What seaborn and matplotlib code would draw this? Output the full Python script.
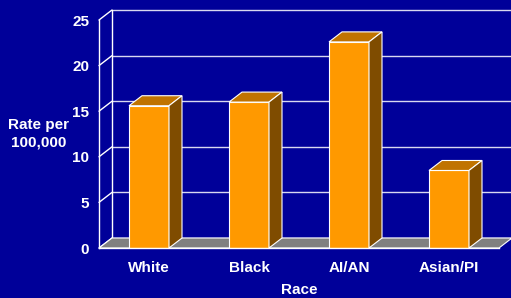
import numpy as np
import pandas as pd
import matplotlib
matplotlib.use("Agg")
import matplotlib.pyplot as plt
from matplotlib.patches import Polygon
from matplotlib.lines import Line2D
from matplotlib.transforms import IdentityTransform
import seaborn as sns

# ── Data ────────────────────────────────────────────────
races = ["White", "Black", "AI/AN", "Asian/PI"]
rates = [15.6, 16.0, 22.6, 8.5]
y_ticks = [0, 5, 10, 15, 20, 25]

# ── Style ───────────────────────────────────────────────
BG = "#000099"
FRONT = "#FF9900"
TOP = "#C07300"
SIDE = "#7F4C00"
FLOOR = "#808080"
GRID = "#D8D8F0"
DEPTH = (13, 10)  # 3D offset of the back wall, in pixels
FS = 11

sns.set_style("white")
plt.rcParams["font.family"] = ["Liberation Sans", "DejaVu Sans"]
plt.rcParams["font.weight"] = "bold"

fig = plt.figure(figsize=(5.11, 2.98), dpi=100, facecolor=BG)
ax = fig.add_axes([99 / 511, 50 / 298, 400 / 511, 228 / 298])
ax.set_facecolor("none")

df = pd.DataFrame({"race": races, "rate": rates})
sns.barplot(data=df, x="race", y="rate", color=FRONT, saturation=1,
            width=0.4, edgecolor="white", linewidth=0.8, ax=ax, zorder=3)
bars = list(ax.patches)

ax.set_xlim(-0.5, len(races) - 0.5)
ax.set_ylim(y_ticks[0], y_ticks[-1])
x_left, x_right = ax.get_xlim()


def front(x, y):
    return ax.transData.transform((x, y))


def back(x, y):
    px, py = ax.transData.transform((x, y))
    return px + DEPTH[0], py + DEPTH[1]


def add_poly(pts, fc, z):
    poly = Polygon(pts, closed=True, transform=IdentityTransform(), fc=fc,
                   ec="white", lw=0.8, zorder=z, clip_on=False)
    ax.add_artist(poly)


def add_line(p0, p1, color=GRID, z=0.5):
    ax.add_artist(Line2D([p0[0], p1[0]], [p0[1], p1[1]], color=color, lw=1,
                         transform=IdentityTransform(), zorder=z, clip_on=False))


# back wall grid + diagonals from the front axis
for v in y_ticks:
    b0 = back(x_left, v)
    add_line(b0, (fig.bbox.width, b0[1]))
    add_line(front(x_left, v), b0, color="white")
add_line(back(x_left, y_ticks[0]), back(x_left, y_ticks[-1]), color="white")

# floor
add_poly([front(x_left, 0), front(x_right, 0), back(x_right, 0), back(x_left, 0)],
         FLOOR, 1)

# bar tops and sides
for p in bars:
    x0, w, h = p.get_x(), p.get_width(), p.get_height()
    add_poly([front(x0, h), front(x0 + w, h), back(x0 + w, h), back(x0, h)], TOP, 3)
    add_poly([front(x0 + w, 0), front(x0 + w, h), back(x0 + w, h), back(x0 + w, 0)],
             SIDE, 3)

# axes, ticks, labels
for side in ["top", "right"]:
    ax.spines[side].set_visible(False)
for side in ["left", "bottom"]:
    ax.spines[side].set_color("white")
    ax.spines[side].set_linewidth(1)
    ax.spines[side].set_zorder(4)

ax.set_yticks(y_ticks)
ax.tick_params(axis="y", colors="white", length=4, width=1, pad=3, labelsize=FS)
ax.set_xticks(np.arange(len(races)) + 0.5, minor=True)
ax.tick_params(axis="x", which="major", length=0, pad=9, labelcolor="white", labelsize=FS)
ax.tick_params(axis="x", which="minor", length=4, width=1, color="white")

ax.set_xlabel("Race", color="white", fontsize=FS, fontweight="bold", labelpad=6)
ax.set_ylabel("")
fig.text(39 / 511, 164 / 298, "Rate per\n100,000", color="white", fontsize=FS,
         fontweight="bold", ha="center", va="center", linespacing=1.3)

plt.savefig("out.png", dpi=100, facecolor=BG)
plt.close(fig)
